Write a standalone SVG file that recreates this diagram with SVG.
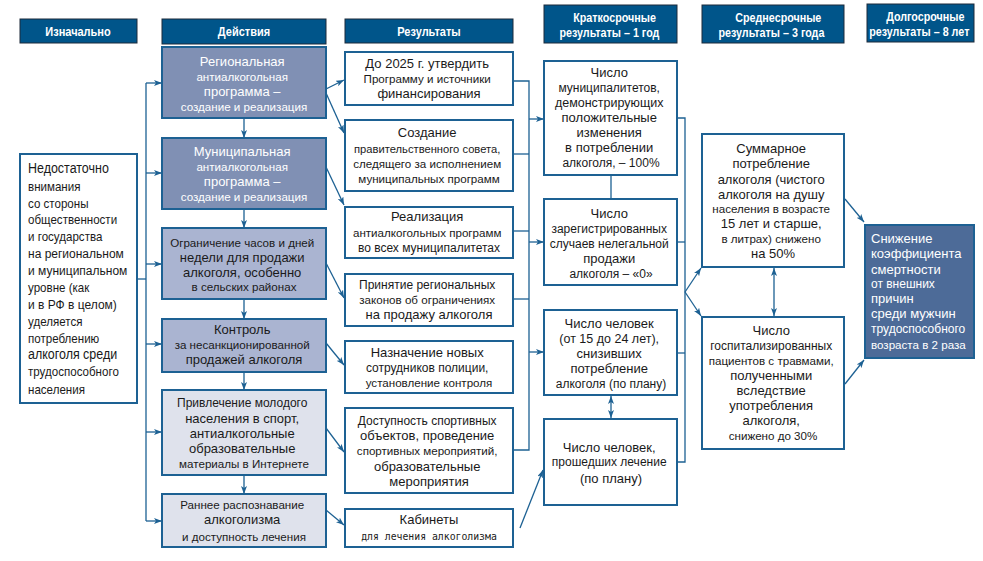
<svg xmlns="http://www.w3.org/2000/svg" width="983" height="561" viewBox="0 0 983 561">
<defs>
<marker id="ah" viewBox="0 0 8 6" refX="8" refY="3" markerWidth="8" markerHeight="6" markerUnits="userSpaceOnUse" orient="auto-start-reverse">
<path d="M0,0 L8,3 L0,6 L2,3 z" fill="#1d6193"/>
</marker>
<style>
.hd{fill:#00558a;stroke:#1c2b3a;stroke-width:1}
.ht{font-family:"Liberation Sans",Arial,sans-serif;font-weight:bold;font-size:12.5px;fill:#ffffff;text-anchor:middle}
.bx{stroke:#1d6193;stroke-width:2;fill:#ffffff}
.a1{fill:#8090b4}
.a2{fill:#aab4d1}
.a3{fill:#dfe2ec}
.lt{fill:#4d6b98}
.t{font-family:"Liberation Sans",Arial,sans-serif;font-size:13px;fill:#1a1a1a;text-anchor:middle}
.tl{font-family:"Liberation Sans",Arial,sans-serif;font-size:13px;fill:#1a1a1a;text-anchor:start}
.w{fill:#ffffff}
.s{font-size:11.6px}
.m{font-size:12px}
.mono{font-family:"DejaVu Sans Mono","Liberation Mono",monospace;font-size:9.8px;fill:#1a1a1a;text-anchor:middle}
.c{fill:none;stroke:#1d6193;stroke-width:1.3}
.ar{fill:none;stroke:#1d6193;stroke-width:1.3;marker-end:url(#ah)}
.da{fill:none;stroke:#1d6193;stroke-width:1.3;marker-end:url(#ah);marker-start:url(#ah)}
</style>
</defs>
<rect width="983" height="561" fill="#ffffff"/>

<g id="headers">
<rect class="hd" x="20" y="19" width="117" height="24"/>
<text class="ht" transform="matrix(0.88 0 0 1 78 0)"><tspan x="0" y="36">Изначально</tspan></text>
<rect class="hd" x="162" y="19" width="164" height="25"/>
<text class="ht" transform="matrix(0.88 0 0 1 244 0)"><tspan x="0" y="36">Действия</tspan></text>
<rect class="hd" x="345" y="19" width="168" height="24"/>
<text class="ht" transform="matrix(0.88 0 0 1 429 0)"><tspan x="0" y="36">Результаты</tspan></text>
<rect class="hd" x="544" y="5" width="133" height="38"/>
<text class="ht" font-size="12" transform="matrix(0.86 0 0 1 612 0)"><tspan x="3" y="22">Краткосрочные</tspan><tspan x="-3" y="37">результаты – 1 год</tspan></text>
<rect class="hd" x="702" y="5" width="142" height="38"/>
<text class="ht" font-size="12" transform="matrix(0.86 0 0 1 774 0)"><tspan x="5" y="22">Среднесрочные</tspan><tspan x="-3" y="37">результаты – 3 года</tspan></text>
<rect class="hd" x="867" y="4" width="107" height="38"/>
<text class="ht" font-size="12" transform="matrix(0.86 0 0 1 921 0)"><tspan x="5" y="21">Долгосрочные</tspan><tspan x="-2" y="36">результаты – 8 лет</tspan></text>
</g>

<g id="connectors">
<polyline class="c" points="137,279 146,279"/>
<line class="c" x1="146" y1="83" x2="146" y2="521"/>
<line class="ar" x1="146" y1="83" x2="162" y2="83"/>
<line class="ar" x1="146" y1="173" x2="162" y2="173"/>
<line class="ar" x1="146" y1="264" x2="162" y2="264"/>
<line class="ar" x1="146" y1="344" x2="162" y2="344"/>
<line class="ar" x1="146" y1="432" x2="162" y2="432"/>
<line class="ar" x1="146" y1="521" x2="162" y2="521"/>
<line class="ar" x1="244" y1="118" x2="244" y2="138"/>
<line class="ar" x1="244" y1="209" x2="244" y2="228"/>
<line class="ar" x1="244" y1="299" x2="244" y2="319"/>
<line class="ar" x1="244" y1="372" x2="244" y2="390"/>
<line class="ar" x1="244" y1="475" x2="244" y2="494"/>
<line class="ar" x1="326" y1="89" x2="344" y2="80"/>
<line class="ar" x1="326" y1="93" x2="344" y2="133"/>
<line class="ar" x1="326" y1="167" x2="344" y2="205"/>
<line class="ar" x1="326" y1="263" x2="344" y2="298"/>
<line class="ar" x1="326" y1="343" x2="344" y2="365"/>
<line class="ar" x1="326" y1="428" x2="344" y2="452"/>
<line class="ar" x1="326" y1="510" x2="344" y2="525"/>
<polyline class="c" points="513,81 529,81 529,450 513,450"/>
<line class="c" x1="513" y1="154" x2="529" y2="154"/>
<line class="c" x1="513" y1="231" x2="529" y2="231"/>
<line class="c" x1="513" y1="299" x2="529" y2="299"/>
<line class="ar" x1="529" y1="119" x2="544" y2="119"/>
<line class="ar" x1="529" y1="242" x2="544" y2="242"/>
<line class="ar" x1="529" y1="352" x2="544" y2="352"/>
<line class="ar" x1="520" y1="528" x2="543" y2="470"/>
<line class="c" x1="611" y1="175" x2="611" y2="199"/>
<line class="da" x1="611" y1="396" x2="611" y2="418"/>
<polyline class="c" points="677,118 685,118 685,462 677,462"/>
<line class="c" x1="677" y1="242" x2="685" y2="242"/>
<line class="c" x1="677" y1="353" x2="685" y2="353"/>
<line class="ar" x1="685" y1="292" x2="701" y2="268"/>
<line class="ar" x1="685" y1="292" x2="701" y2="316"/>
<line class="da" x1="774" y1="268" x2="774" y2="316"/>
<line class="ar" x1="845" y1="199" x2="864" y2="222"/>
<line class="ar" x1="845" y1="384" x2="864" y2="360"/>
</g>

<g id="initial">
<rect class="bx" x="20" y="154" width="117" height="249"/>
<text class="tl" font-size="14.5" transform="matrix(0.89 0 0 1 28 0)">
<tspan x="0" y="173" font-size="14">Недостаточно</tspan>
<tspan x="0" y="191">внимания</tspan>
<tspan x="0" y="208">со стороны</tspan>
<tspan x="0" y="224" font-size="13">общественности</tspan>
<tspan x="0" y="241">и государства</tspan>
<tspan x="0" y="258" font-size="13.5">на региональном</tspan>
<tspan x="0" y="275" font-size="13.5">и муниципальном</tspan>
<tspan x="0" y="292">уровне (как</tspan>
<tspan x="0" y="309" font-size="13.5">и в РФ в целом)</tspan>
<tspan x="0" y="326">уделяется</tspan>
<tspan x="0" y="343">потреблению</tspan>
<tspan x="0" y="359" font-size="14">алкоголя среди</tspan>
<tspan x="0" y="376" font-size="13">трудоспособного</tspan>
<tspan x="0" y="394">населения</tspan>
</text>
</g>

<g id="act1">
<rect class="bx a1" x="162" y="47" width="164" height="71"/>
<text class="t w">
<tspan x="244" y="66">Региональная</tspan>
<tspan x="244" y="81" class="s">антиалкогольная</tspan>
<tspan x="244" y="96">программа –</tspan>
<tspan x="244" y="111" class="s">создание и реализация</tspan>
</text>
</g>
<g id="act2">
<rect class="bx a1" x="162" y="138" width="164" height="71"/>
<text class="t w">
<tspan x="244" y="156">Муниципальная</tspan>
<tspan x="244" y="171" class="s">антиалкогольная</tspan>
<tspan x="244" y="186">программа –</tspan>
<tspan x="244" y="201" class="s">создание и реализация</tspan>
</text>
</g>
<g id="act3">
<rect class="bx a2" x="162" y="228" width="164" height="71"/>
<text class="t">
<tspan x="244" y="247" class="s">Ограничение часов и дней</tspan>
<tspan x="244" y="262">недели для продажи</tspan>
<tspan x="244" y="277">алкоголя, особенно</tspan>
<tspan x="244" y="291" class="s">в сельских районах</tspan>
</text>
</g>
<g id="act4">
<rect class="bx a2" x="162" y="319" width="164" height="53"/>
<text class="t">
<tspan x="244" y="334">Контроль</tspan>
<tspan x="244" y="349" class="s">за несанкционированной</tspan>
<tspan x="244" y="364">продажей алкоголя</tspan>
</text>
</g>
<g id="act5">
<rect class="bx a3" x="162" y="390" width="164" height="85"/>
<text class="t">
<tspan x="244" y="407" class="m">Привлечение молодого</tspan>
<tspan x="244" y="423">населения в спорт,</tspan>
<tspan x="244" y="438">антиалкогольные</tspan>
<tspan x="244" y="453">образовательные</tspan>
<tspan x="244" y="468" class="s">материалы в Интернете</tspan>
</text>
</g>
<g id="act6">
<rect class="bx a3" x="162" y="494" width="164" height="53"/>
<text class="t">
<tspan x="244" y="509" class="s">Раннее распознавание</tspan>
<tspan x="244" y="524">алкоголизма</tspan>
<tspan x="244" y="541" class="s">и доступность лечения</tspan>
</text>
</g>

<g id="res1">
<rect class="bx" x="345" y="52" width="168" height="53"/>
<text class="t">
<tspan x="429" y="68">До 2025 г. утвердить</tspan>
<tspan x="429" y="83" class="s">Программу и источники</tspan>
<tspan x="429" y="98">финансирования</tspan>
</text>
</g>
<g id="res2">
<rect class="bx" x="345" y="120" width="168" height="71"/>
<text class="t">
<tspan x="429" y="137">Создание</tspan>
<tspan x="429" y="153" font-size="11.2">правительственного совета,</tspan>
<tspan x="429" y="168" class="s">следящего за исполнением</tspan>
<tspan x="429" y="183" class="s">муниципальных программ</tspan>
</text>
</g>
<g id="res3">
<rect class="bx" x="345" y="207" width="168" height="51"/>
<text class="t">
<tspan x="429" y="221">Реализация</tspan>
<tspan x="429" y="237" class="s">антиалкогольных программ</tspan>
<tspan x="429" y="252" class="m">во всех муниципалитетах</tspan>
</text>
</g>
<g id="res4">
<rect class="bx" x="345" y="274" width="168" height="52"/>
<text class="t">
<tspan x="429" y="289" class="m">Принятие региональных</tspan>
<tspan x="429" y="304" class="s">законов об ограничениях</tspan>
<tspan x="429" y="319">на продажу алкоголя</tspan>
</text>
</g>
<g id="res5">
<rect class="bx" x="345" y="341" width="168" height="52"/>
<text class="t">
<tspan x="429" y="357">Назначение новых</tspan>
<tspan x="429" y="372" class="m">сотрудников полиции,</tspan>
<tspan x="429" y="387" class="s">установление контроля</tspan>
</text>
</g>
<g id="res6">
<rect class="bx" x="345" y="408" width="168" height="85"/>
<text class="t">
<tspan x="429" y="425" class="m">Доступность спортивных</tspan>
<tspan x="429" y="440">объектов, проведение</tspan>
<tspan x="429" y="455" class="s">спортивных мероприятий,</tspan>
<tspan x="429" y="471">образовательные</tspan>
<tspan x="429" y="486">мероприятия</tspan>
</text>
</g>
<g id="res7">
<rect class="bx" x="345" y="509" width="168" height="38"/>
<text class="t"><tspan x="429" y="524">Кабинеты</tspan></text>
<text class="mono" x="429" y="540">для лечения алкоголизма</text>
</g>

<g id="short1">
<rect class="bx" x="544" y="61" width="133" height="114"/>
<text class="t">
<tspan x="611" y="77">Число</tspan>
<tspan x="611" y="92" class="m">муниципалитетов,</tspan>
<tspan x="611" y="107" font-size="12.5">демонстрирующих</tspan>
<tspan x="611" y="122">положительные</tspan>
<tspan x="611" y="137">изменения</tspan>
<tspan x="611" y="152">в потреблении</tspan>
<tspan x="611" y="167" class="m">алкоголя, – 100%</tspan>
</text>
</g>
<g id="short2">
<rect class="bx" x="544" y="199" width="133" height="86"/>
<text class="t">
<tspan x="611" y="218">Число</tspan>
<tspan x="611" y="233" class="m">зарегистрированных</tspan>
<tspan x="611" y="248" class="m">случаев нелегальной</tspan>
<tspan x="611" y="263">продажи</tspan>
<tspan x="611" y="278" class="m">алкоголя – «0»</tspan>
</text>
</g>
<g id="short3">
<rect class="bx" x="544" y="310" width="133" height="85"/>
<text class="t">
<tspan x="611" y="328">Число человек</tspan>
<tspan x="611" y="343" font-size="12.5">(от 15 до 24 лет),</tspan>
<tspan x="611" y="358">снизивших</tspan>
<tspan x="611" y="373">потребление</tspan>
<tspan x="611" y="388" class="m">алкоголя (по плану)</tspan>
</text>
</g>
<g id="short4">
<rect class="bx" x="544" y="419" width="133" height="86"/>
<text class="t">
<tspan x="611" y="452">Число человек,</tspan>
<tspan x="611" y="466" class="m">прошедших лечение</tspan>
<tspan x="611" y="483">(по плану)</tspan>
</text>
</g>

<g id="mid1">
<rect class="bx" x="702" y="134" width="142" height="133"/>
<text class="t">
<tspan x="773" y="153">Суммарное</tspan>
<tspan x="773" y="168">потребление</tspan>
<tspan x="773" y="184">алкоголя (чистого</tspan>
<tspan x="773" y="199">алкоголя на душу</tspan>
<tspan x="773" y="213" class="s">населения в возрасте</tspan>
<tspan x="773" y="228">15 лет и старше,</tspan>
<tspan x="773" y="243" class="s">в литрах) снижено</tspan>
<tspan x="773" y="258">на 50%</tspan>
</text>
</g>
<g id="mid2">
<rect class="bx" x="702" y="317" width="142" height="132"/>
<text class="t">
<tspan x="773" y="335">Число</tspan>
<tspan x="773" y="350" class="m">госпитализированных</tspan>
<tspan x="773" y="365" class="s">пациентов с травмами,</tspan>
<tspan x="773" y="380">полученными</tspan>
<tspan x="773" y="395">вследствие</tspan>
<tspan x="773" y="410">употребления</tspan>
<tspan x="773" y="425">алкоголя,</tspan>
<tspan x="773" y="440" class="s">снижено до 30%</tspan>
</text>
</g>

<g id="long1">
<rect class="bx lt" x="865" y="225" width="109" height="133"/>
<text class="tl w">
<tspan x="871" y="243">Снижение</tspan>
<tspan x="871" y="258">коэффициента</tspan>
<tspan x="871" y="274">смертности</tspan>
<tspan x="871" y="288" class="m">от внешних</tspan>
<tspan x="871" y="303">причин</tspan>
<tspan x="871" y="318">среди мужчин</tspan>
<tspan x="871" y="333" class="m">трудоспособного</tspan>
<tspan x="871" y="349" class="s">возраста в 2 раза</tspan>
</text>
</g>
</svg>
